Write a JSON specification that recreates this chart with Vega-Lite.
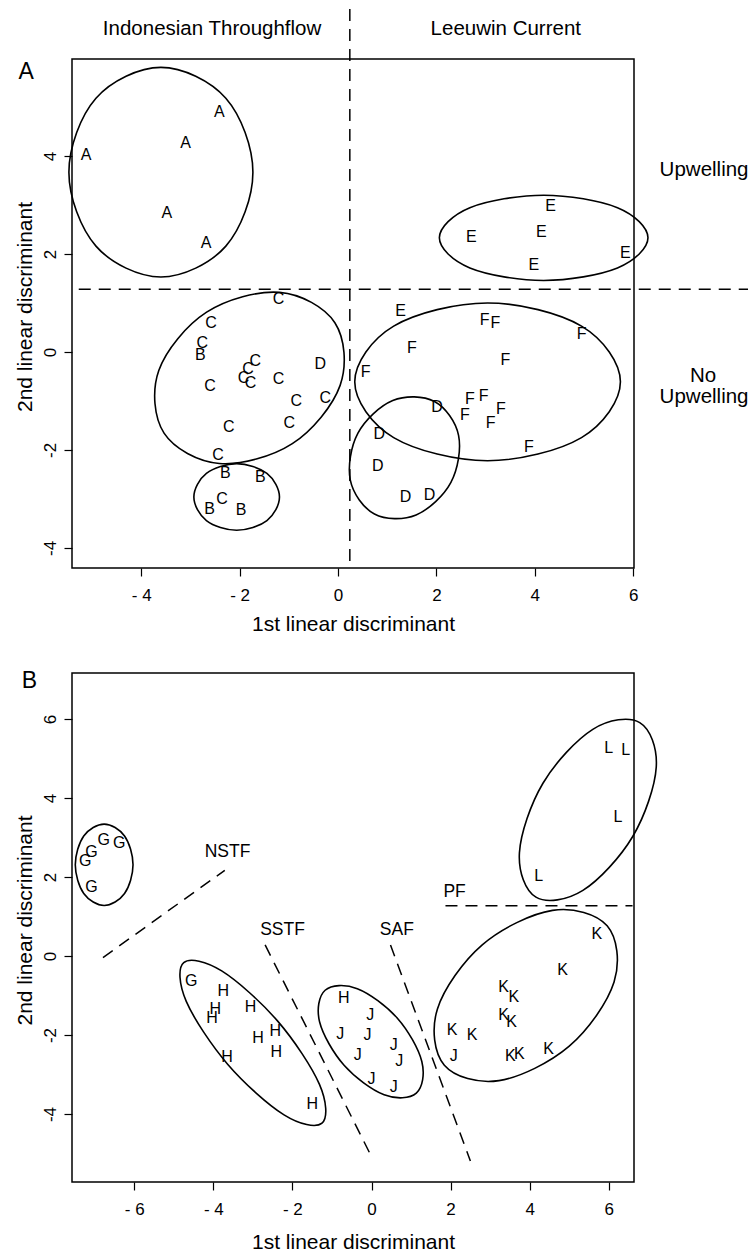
{
  "$schema": "https://vega.github.io/schema/vega-lite/v6.json",
  "background": "white",
  "autosize": {"type": "pad"},
  "padding": {"left": 13, "top": 7, "right": 0, "bottom": 0},
  "bounds": "flush",
  "spacing": 105,
  "resolve": {"scale": {"x": "independent", "y": "independent"}},
  "config": {
    "view": {"stroke": "black", "strokeWidth": 1.5},
    "axis": {
      "domain": false, "grid": false, "ticks": true,
      "tickColor": "black", "tickSize": 8, "tickWidth": 1.2,
      "labelFont": "Liberation Sans", "labelFontSize": 17, "labelColor": "black",
      "labelFlush": false, "labelOverlap": false,
      "titleFont": "Liberation Sans", "titleFontSize": 21, "titleFontWeight": "normal", "titleColor": "black"
    },
    "text": {"font": "Liberation Sans", "color": "black", "align": "center", "baseline": "middle"}
  },
  "datasets": {
    "samplesA": [
      {"g": "A", "x": -2.41, "y": 4.90}, {"g": "A", "x": -3.10, "y": 4.27}, {"g": "A", "x": -5.12, "y": 4.02},
      {"g": "A", "x": -3.48, "y": 2.83}, {"g": "A", "x": -2.68, "y": 2.22},
      {"g": "E", "x": 4.32, "y": 2.98}, {"g": "E", "x": 2.71, "y": 2.35}, {"g": "E", "x": 4.13, "y": 2.45},
      {"g": "E", "x": 3.98, "y": 1.77}, {"g": "E", "x": 5.84, "y": 2.01}, {"g": "E", "x": 1.27, "y": 0.84},
      {"g": "C", "x": -1.21, "y": 1.08}, {"g": "C", "x": -2.58, "y": 0.60}, {"g": "C", "x": -2.76, "y": 0.18},
      {"g": "C", "x": -1.68, "y": -0.18}, {"g": "C", "x": -1.83, "y": -0.35}, {"g": "C", "x": -1.92, "y": -0.54},
      {"g": "C", "x": -1.78, "y": -0.63}, {"g": "C", "x": -1.21, "y": -0.56}, {"g": "C", "x": -2.60, "y": -0.69},
      {"g": "C", "x": -0.85, "y": -1.00}, {"g": "C", "x": -0.26, "y": -0.93}, {"g": "C", "x": -0.99, "y": -1.46},
      {"g": "C", "x": -2.22, "y": -1.54}, {"g": "C", "x": -2.44, "y": -2.10}, {"g": "C", "x": -2.36, "y": -3.01},
      {"g": "B", "x": -2.80, "y": -0.06}, {"g": "B", "x": -2.29, "y": -2.48}, {"g": "B", "x": -1.58, "y": -2.56},
      {"g": "B", "x": -2.61, "y": -3.20}, {"g": "B", "x": -1.97, "y": -3.23},
      {"g": "D", "x": -0.36, "y": -0.25}, {"g": "D", "x": 2.01, "y": -1.12}, {"g": "D", "x": 0.84, "y": -1.68},
      {"g": "D", "x": 0.81, "y": -2.33}, {"g": "D", "x": 1.37, "y": -2.96}, {"g": "D", "x": 1.86, "y": -2.93},
      {"g": "F", "x": 2.98, "y": 0.65}, {"g": "F", "x": 3.20, "y": 0.60}, {"g": "F", "x": 4.95, "y": 0.37},
      {"g": "F", "x": 1.50, "y": 0.09}, {"g": "F", "x": 3.40, "y": -0.17}, {"g": "F", "x": 0.56, "y": -0.41},
      {"g": "F", "x": 2.68, "y": -0.97}, {"g": "F", "x": 2.96, "y": -0.90}, {"g": "F", "x": 2.58, "y": -1.29},
      {"g": "F", "x": 3.31, "y": -1.16}, {"g": "F", "x": 3.10, "y": -1.46}, {"g": "F", "x": 3.88, "y": -1.93}
    ],
    "ringsA": [
      {"e": "A", "i": 0, "x": -1.73, "y": 3.67}, {"e": "A", "i": 1, "x": -2.28, "y": 5.18},
      {"e": "A", "i": 2, "x": -3.60, "y": 5.81}, {"e": "A", "i": 3, "x": -4.92, "y": 5.18},
      {"e": "A", "i": 4, "x": -5.47, "y": 3.67}, {"e": "A", "i": 5, "x": -4.92, "y": 2.16},
      {"e": "A", "i": 6, "x": -3.60, "y": 1.53}, {"e": "A", "i": 7, "x": -2.28, "y": 2.16},
      {"e": "E", "i": 0, "x": 6.30, "y": 2.33}, {"e": "E", "i": 1, "x": 5.68, "y": 2.945},
      {"e": "E", "i": 2, "x": 4.18, "y": 3.20}, {"e": "E", "i": 3, "x": 2.68, "y": 2.945},
      {"e": "E", "i": 4, "x": 2.06, "y": 2.33}, {"e": "E", "i": 5, "x": 2.68, "y": 1.715},
      {"e": "E", "i": 6, "x": 4.18, "y": 1.46}, {"e": "E", "i": 7, "x": 5.68, "y": 1.715},
      {"e": "C", "i": 0, "x": -0.064, "y": 0.597}, {"e": "C", "i": 1, "x": -1.188, "y": 1.216},
      {"e": "C", "i": 2, "x": -2.671, "y": 0.812}, {"e": "C", "i": 3, "x": -3.643, "y": -0.378},
      {"e": "C", "i": 4, "x": -3.536, "y": -1.657}, {"e": "C", "i": 5, "x": -2.412, "y": -2.276},
      {"e": "C", "i": 6, "x": -0.929, "y": -1.872}, {"e": "C", "i": 7, "x": 0.043, "y": -0.682},
      {"e": "B", "i": 0, "x": -1.19, "y": -2.96}, {"e": "B", "i": 1, "x": -1.445, "y": -2.479},
      {"e": "B", "i": 2, "x": -2.06, "y": -2.28}, {"e": "B", "i": 3, "x": -2.675, "y": -2.479},
      {"e": "B", "i": 4, "x": -2.93, "y": -2.96}, {"e": "B", "i": 5, "x": -2.675, "y": -3.441},
      {"e": "B", "i": 6, "x": -2.06, "y": -3.64}, {"e": "B", "i": 7, "x": -1.445, "y": -3.441},
      {"e": "F", "i": 0, "x": 5.74, "y": -0.61}, {"e": "F", "i": 1, "x": 4.949, "y": 0.528},
      {"e": "F", "i": 2, "x": 3.04, "y": 1.00}, {"e": "F", "i": 3, "x": 1.131, "y": 0.528},
      {"e": "F", "i": 4, "x": 0.34, "y": -0.61}, {"e": "F", "i": 5, "x": 1.131, "y": -1.748},
      {"e": "F", "i": 6, "x": 3.04, "y": -2.22}, {"e": "F", "i": 7, "x": 4.949, "y": -1.748},
      {"e": "D", "i": 0, "x": 1.960, "y": -1.012}, {"e": "D", "i": 1, "x": 1.113, "y": -0.993},
      {"e": "D", "i": 2, "x": 0.405, "y": -1.658}, {"e": "D", "i": 3, "x": 0.250, "y": -2.617},
      {"e": "D", "i": 4, "x": 0.740, "y": -3.308}, {"e": "D", "i": 5, "x": 1.587, "y": -3.327},
      {"e": "D", "i": 6, "x": 2.295, "y": -2.662}, {"e": "D", "i": 7, "x": 2.450, "y": -1.703}
    ],
    "splitsA": [
      {"x": 0.24, "y": 7.0, "x2": 0.24, "y2": -4.41},
      {"x": -5.27, "y": 1.28, "x2": 8.37, "y2": 1.28}
    ],
    "notesA": [
      {"t": "Indonesian Throughflow", "x": -2.56, "y": 6.60},
      {"t": "Leeuwin Current", "x": 3.41, "y": 6.60},
      {"t": "Upwelling", "x": 7.44, "y": 3.72},
      {"t": "No", "x": 7.42, "y": -0.50},
      {"t": "Upwelling", "x": 7.44, "y": -0.92}
    ],
    "tagA": [{"t": "A", "x": -6.34, "y": 5.72}],
    "samplesB": [
      {"g": "G", "x": -7.24, "y": 2.41}, {"g": "G", "x": -7.08, "y": 2.64}, {"g": "G", "x": -6.77, "y": 2.93},
      {"g": "G", "x": -6.38, "y": 2.87}, {"g": "G", "x": -7.08, "y": 1.75}, {"g": "G", "x": -4.56, "y": -0.63},
      {"g": "H", "x": -3.75, "y": -0.89}, {"g": "H", "x": -3.95, "y": -1.35}, {"g": "H", "x": -4.03, "y": -1.58},
      {"g": "H", "x": -3.06, "y": -1.28}, {"g": "H", "x": -2.43, "y": -1.90}, {"g": "H", "x": -2.87, "y": -2.08},
      {"g": "H", "x": -2.41, "y": -2.43}, {"g": "H", "x": -3.65, "y": -2.56}, {"g": "H", "x": -1.50, "y": -3.74},
      {"g": "H", "x": -0.70, "y": -1.06},
      {"g": "J", "x": -0.03, "y": -1.50}, {"g": "J", "x": -0.79, "y": -1.97}, {"g": "J", "x": -0.10, "y": -2.01},
      {"g": "J", "x": 0.56, "y": -2.25}, {"g": "J", "x": -0.35, "y": -2.51}, {"g": "J", "x": 0.70, "y": -2.66},
      {"g": "J", "x": 0.00, "y": -3.11}, {"g": "J", "x": 0.56, "y": -3.31}, {"g": "J", "x": 2.08, "y": -2.53},
      {"g": "K", "x": 5.70, "y": 0.55}, {"g": "K", "x": 4.83, "y": -0.35}, {"g": "K", "x": 3.34, "y": -0.78},
      {"g": "K", "x": 3.60, "y": -1.04}, {"g": "K", "x": 3.34, "y": -1.50}, {"g": "K", "x": 3.54, "y": -1.67},
      {"g": "K", "x": 2.04, "y": -1.87}, {"g": "K", "x": 2.54, "y": -2.01}, {"g": "K", "x": 3.51, "y": -2.53},
      {"g": "K", "x": 3.74, "y": -2.47}, {"g": "K", "x": 4.48, "y": -2.36},
      {"g": "L", "x": 6.00, "y": 5.27}, {"g": "L", "x": 6.43, "y": 5.21}, {"g": "L", "x": 6.23, "y": 3.52},
      {"g": "L", "x": 4.23, "y": 2.03}
    ],
    "ringsB": [
      {"e": "G", "i": 0, "x": -6.03, "y": 2.31}, {"e": "G", "i": 1, "x": -6.244, "y": 3.038},
      {"e": "G", "i": 2, "x": -6.76, "y": 3.34}, {"e": "G", "i": 3, "x": -7.276, "y": 3.038},
      {"e": "G", "i": 4, "x": -7.49, "y": 2.31}, {"e": "G", "i": 5, "x": -7.276, "y": 1.582},
      {"e": "G", "i": 6, "x": -6.76, "y": 1.28}, {"e": "G", "i": 7, "x": -6.244, "y": 1.582},
      {"e": "H", "i": 0, "x": -1.252, "y": -4.232}, {"e": "H", "i": 1, "x": -1.316, "y": -3.251},
      {"e": "H", "i": 2, "x": -2.367, "y": -1.655}, {"e": "H", "i": 3, "x": -3.788, "y": -0.378},
      {"e": "H", "i": 4, "x": -4.748, "y": -0.168}, {"e": "H", "i": 5, "x": -4.684, "y": -1.149},
      {"e": "H", "i": 6, "x": -3.633, "y": -2.745}, {"e": "H", "i": 7, "x": -2.212, "y": -4.022},
      {"e": "J", "i": 0, "x": 1.133, "y": -3.473}, {"e": "J", "i": 1, "x": 1.272, "y": -2.670},
      {"e": "J", "i": 2, "x": 0.654, "y": -1.574}, {"e": "J", "i": 3, "x": -0.359, "y": -0.827},
      {"e": "J", "i": 4, "x": -1.173, "y": -0.867}, {"e": "J", "i": 5, "x": -1.312, "y": -1.670},
      {"e": "J", "i": 6, "x": -0.694, "y": -2.766}, {"e": "J", "i": 7, "x": 0.319, "y": -3.513},
      {"e": "K", "i": 0, "x": 5.958, "y": 0.764}, {"e": "K", "i": 1, "x": 4.577, "y": 1.155},
      {"e": "K", "i": 2, "x": 2.800, "y": 0.283}, {"e": "K", "i": 3, "x": 1.667, "y": -1.340},
      {"e": "K", "i": 4, "x": 1.842, "y": -2.764}, {"e": "K", "i": 5, "x": 3.223, "y": -3.155},
      {"e": "K", "i": 6, "x": 5.000, "y": -2.283}, {"e": "K", "i": 7, "x": 6.133, "y": -0.660},
      {"e": "L", "i": 0, "x": 6.782, "y": 5.910}, {"e": "L", "i": 1, "x": 5.595, "y": 5.739},
      {"e": "L", "i": 2, "x": 4.335, "y": 4.374}, {"e": "L", "i": 3, "x": 3.740, "y": 2.614},
      {"e": "L", "i": 4, "x": 4.158, "y": 1.490}, {"e": "L", "i": 5, "x": 5.345, "y": 1.661},
      {"e": "L", "i": 6, "x": 6.605, "y": 3.026}, {"e": "L", "i": 7, "x": 7.200, "y": 4.786}
    ],
    "frontsB": [
      {"x": -6.79, "y": -0.04, "x2": -3.71, "y2": 2.17},
      {"x": -2.69, "y": 0.28, "x2": -0.03, "y2": -5.02},
      {"x": 0.48, "y": 0.28, "x2": 2.50, "y2": -5.19},
      {"x": 1.87, "y": 1.27, "x2": 6.60, "y2": 1.27}
    ],
    "namesB": [
      {"t": "NSTF", "x": -3.64, "y": 2.63},
      {"t": "SSTF", "x": -2.25, "y": 0.65},
      {"t": "SAF", "x": 0.64, "y": 0.66},
      {"t": "PF", "x": 2.10, "y": 1.63}
    ],
    "tagB": [{"t": "B", "x": -8.65, "y": 6.96}]
  },
  "vconcat": [
    {
      "width": 562,
      "height": 509,
      "encoding": {
        "x": {
          "field": "x", "type": "quantitative",
          "scale": {"domain": [-5.407, 6.016], "nice": false, "zero": false},
          "axis": {
            "values": [-4, -2, 0, 2, 4, 6], "title": "1st linear discriminant",
            "labelExpr": "datum.value < 0 ? '- ' + abs(datum.value) : datum.label",
            "labelPadding": 11, "titleY": 62, "titleBaseline": "alphabetic"
          }
        },
        "y": {
          "field": "y", "type": "quantitative",
          "scale": {"domain": [-4.41, 5.98], "nice": false, "zero": false},
          "axis": {
            "values": [-4, -2, 0, 2, 4], "title": "2nd linear discriminant",
            "labelExpr": "datum.value < 0 ? '-' + abs(datum.value) : datum.label",
            "labelAngle": 270, "labelAlign": "center", "labelBaseline": "alphabetic", "labelPadding": 9,
            "titleAngle": 270, "titleX": -41, "titleY": 247.5, "titleAlign": "center", "titleBaseline": "alphabetic"
          }
        }
      },
      "layer": [
        {
          "data": {"name": "ringsA"},
          "mark": {"type": "line", "interpolate": "cardinal-closed", "color": "black", "strokeWidth": 1.6},
          "encoding": {"detail": {"field": "e"}, "order": {"field": "i", "type": "quantitative"}}
        },
        {
          "data": {"name": "splitsA"},
          "mark": {"type": "rule", "color": "black", "strokeWidth": 1.5, "strokeDash": [12, 8]},
          "encoding": {"x2": {"field": "x2"}, "y2": {"field": "y2"}}
        },
        {
          "data": {"name": "samplesA"},
          "mark": {"type": "text", "fontSize": 16},
          "encoding": {"text": {"field": "g"}}
        },
        {
          "data": {"name": "notesA"},
          "mark": {"type": "text", "fontSize": 20.5},
          "encoding": {"text": {"field": "t"}}
        },
        {
          "data": {"name": "tagA"},
          "mark": {"type": "text", "fontSize": 23},
          "encoding": {"text": {"field": "t"}}
        }
      ]
    },
    {
      "width": 562,
      "height": 509,
      "encoding": {
        "x": {
          "field": "x", "type": "quantitative",
          "scale": {"domain": [-7.573, 6.637], "nice": false, "zero": false},
          "axis": {
            "values": [-6, -4, -2, 0, 2, 4, 6], "title": "1st linear discriminant",
            "labelExpr": "datum.value < 0 ? '- ' + abs(datum.value) : datum.label",
            "labelPadding": 11, "titleY": 66, "titleBaseline": "alphabetic"
          }
        },
        "y": {
          "field": "y", "type": "quantitative",
          "scale": {"domain": [-5.722, 7.165], "nice": false, "zero": false},
          "axis": {
            "values": [-4, -2, 0, 2, 4, 6], "title": "2nd linear discriminant",
            "labelExpr": "datum.value < 0 ? '-' + abs(datum.value) : datum.label",
            "labelAngle": 270, "labelAlign": "center", "labelBaseline": "alphabetic", "labelPadding": 9,
            "titleAngle": 270, "titleX": -41, "titleY": 247, "titleAlign": "center", "titleBaseline": "alphabetic"
          }
        }
      },
      "layer": [
        {
          "data": {"name": "ringsB"},
          "mark": {"type": "line", "interpolate": "cardinal-closed", "color": "black", "strokeWidth": 1.6},
          "encoding": {"detail": {"field": "e"}, "order": {"field": "i", "type": "quantitative"}}
        },
        {
          "data": {"name": "frontsB"},
          "mark": {"type": "rule", "color": "black", "strokeWidth": 1.5, "strokeDash": [12, 8]},
          "encoding": {"x2": {"field": "x2"}, "y2": {"field": "y2"}}
        },
        {
          "data": {"name": "samplesB"},
          "mark": {"type": "text", "fontSize": 16},
          "encoding": {"text": {"field": "g"}}
        },
        {
          "data": {"name": "namesB"},
          "mark": {"type": "text", "fontSize": 17.5},
          "encoding": {"text": {"field": "t"}}
        },
        {
          "data": {"name": "tagB"},
          "mark": {"type": "text", "fontSize": 23},
          "encoding": {"text": {"field": "t"}}
        }
      ]
    }
  ]
}
